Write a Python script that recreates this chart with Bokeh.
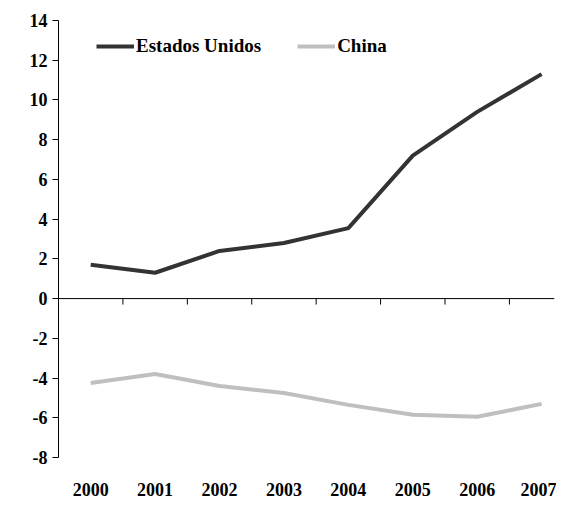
from bokeh.plotting import figure
from bokeh.embed import file_html
from bokeh.resources import INLINE
from bokeh.models import Legend, LegendItem, FixedTicker

years = ["2000", "2001", "2002", "2003", "2004", "2005", "2006", "2007"]
usa = [1.7, 1.3, 2.4, 2.8, 3.55, 7.2, 9.4, 11.3]
china = [-4.25, -3.8, -4.4, -4.75, -5.35, -5.85, -5.95, -5.3]
y_ticks = [-8, -6, -4, -2, 0, 2, 4, 6, 8, 10, 12, 14]

xs = list(range(len(years)))
font = "Liberation Serif"
x_end = 7.2

p = figure(width=556, height=498, x_range=(-0.5, x_end), y_range=(-8, 14),
           output_backend="svg", toolbar_location=None,
           min_border_left=58, min_border_right=2, min_border_top=20, min_border_bottom=38)
p.outline_line_color = None
p.xgrid.grid_line_color = None
p.ygrid.grid_line_color = None

# zero line with ticks between categories
p.line([-0.5, x_end], [0, 0], color="black", line_width=1)
mids = [x + 0.5 for x in xs[:-1]]
p.segment(x0=mids, y0=[0] * len(mids), x1=mids, y1=[-0.3] * len(mids), color="black")

r1 = p.line(xs, usa, color="#333333", line_width=4)
r2 = p.line(xs, china, color="#bfbfbf", line_width=4)

leg = Legend(items=[LegendItem(label="Estados Unidos", renderers=[r1]),
                    LegendItem(label="China", renderers=[r2])],
             orientation="horizontal", location=(38, 400),
             background_fill_alpha=0, border_line_color=None,
             label_text_font=font, label_text_font_style="bold",
             label_text_font_size="19px", label_text_color="black",
             glyph_width=38, spacing=36,
             margin=0, padding=8, label_standoff=2)
p.add_layout(leg)

p.yaxis.ticker = FixedTicker(ticks=y_ticks)
p.yaxis.major_label_overrides = {t: str(t) for t in y_ticks}
p.yaxis.minor_tick_line_color = None
p.yaxis.major_tick_out = 6
p.yaxis.major_tick_in = 0
p.yaxis.axis_line_color = "black"
p.yaxis.major_label_text_font = font
p.yaxis.major_label_text_font_style = "bold"
p.yaxis.major_label_text_font_size = "18px"
p.yaxis.major_label_text_color = "black"

p.xaxis.ticker = FixedTicker(ticks=xs)
p.xaxis.major_label_overrides = {i: y for i, y in enumerate(years)}
p.xaxis.axis_line_color = None
p.xaxis.major_tick_line_color = None
p.xaxis.minor_tick_line_color = None
p.xaxis.major_label_standoff = 19
p.xaxis.major_label_text_font = font
p.xaxis.major_label_text_font_style = "bold"
p.xaxis.major_label_text_font_size = "18px"
p.xaxis.major_label_text_color = "black"

open("out.html", "w").write(file_html(p, INLINE))
